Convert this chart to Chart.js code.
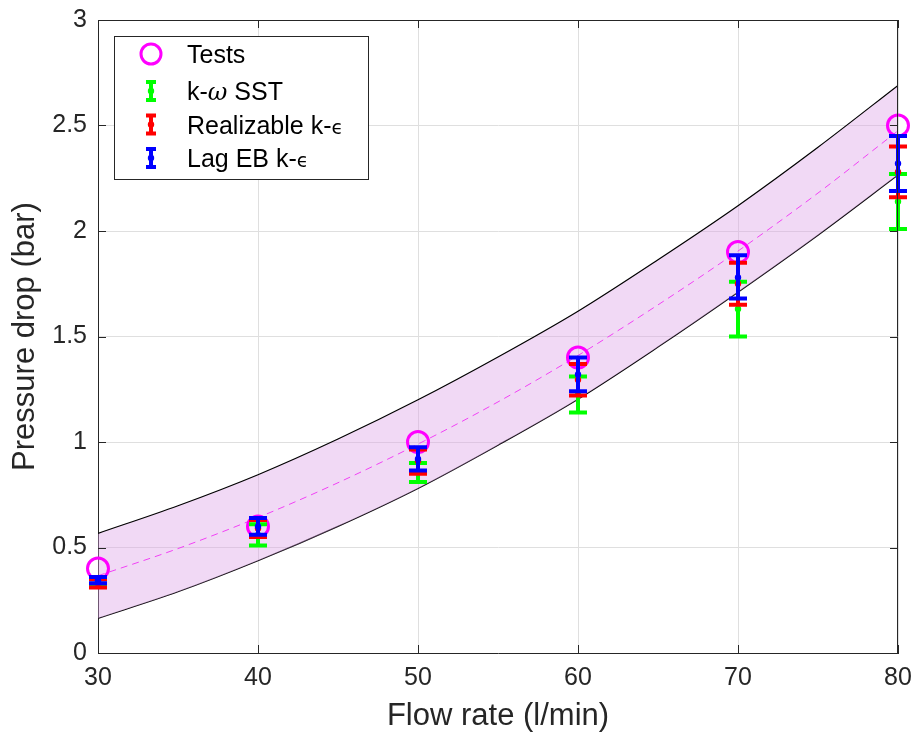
<!DOCTYPE html>
<html>
<head>
<meta charset="utf-8">
<script src="https://cdn.jsdelivr.net/npm/chart.js@4.4.1/dist/chart.umd.min.js"></script>
<style>
  body { margin: 0; background: #fff; }
  canvas { display: block; }
</style>
</head>
<body>
<canvas id="Chart" width="915" height="735"></canvas>
<script>
//measured points
var flow = [30, 40, 50, 60, 70, 80];
var tests = [0.4, 0.6, 1.0, 1.4, 1.9, 2.5];

//k-omega SST range
var sstLow = [0.32, 0.51, 0.81, 1.14, 1.50, 2.01];
var sstMid = [0.335, 0.56, 0.855, 1.225, 1.63, 2.14];
var sstHigh = [0.35, 0.61, 0.90, 1.31, 1.76, 2.27];

//realizable k-epsilon range
var rkeLow = [0.31, 0.55, 0.85, 1.22, 1.65, 2.16];
var rkeMid = [0.33, 0.59, 0.91, 1.295, 1.75, 2.28];
var rkeHigh = [0.35, 0.63, 0.965, 1.37, 1.85, 2.40];

//lag EB k-epsilon range
var lagLow = [0.33, 0.56, 0.865, 1.24, 1.68, 2.19];
var lagMid = [0.345, 0.60, 0.92, 1.32, 1.78, 2.32];
var lagHigh = [0.36, 0.64, 0.975, 1.40, 1.885, 2.45];

//fitted curve and its band
var curveX = [30, 35, 40, 45, 50, 55, 60, 65, 70, 75, 80];
var curveFit = [0.366, 0.495, 0.642, 0.807, 0.99, 1.19, 1.41, 1.65, 1.905, 2.18, 2.475];
var curveUpper = [0.567, 0.698, 0.845, 1.014, 1.20, 1.403, 1.62, 1.864, 2.12, 2.397, 2.69];
var curveLower = [0.164, 0.29, 0.437, 0.60, 0.78, 0.985, 1.203, 1.45, 1.71, 1.98, 2.265];

//axis ticks
var xTicks = [30, 40, 50, 60, 70, 80];
var xTickLabels = ["30", "40", "50", "60", "70", "80"];
var yTicks = [0, 0.5, 1, 1.5, 2, 2.5, 3];
var yTickLabels = ["0", "0.5", "1", "1.5", "2", "2.5", "3"];

var tickFont = { family: "Liberation Sans", size: 25, lineHeight: 1 };
var titleFont = { family: "Liberation Sans", size: 31, lineHeight: 1 };
var textColor = "#262626";

//error bar series, drawn in this order (blue ends up on top)
var models = [
  { name: [["k-", "n"], ["\u03c9", "i"], [" SST", "n"]], color: "#00ff00", low: sstLow, mid: sstMid, high: sstHigh },
  { name: [["Realizable k-", "n"], ["\u03f5", "s"]], color: "#ff0000", low: rkeLow, mid: rkeMid, high: rkeHigh },
  { name: [["Lag EB k-", "n"], ["\u03f5", "s"]], color: "#0000ff", low: lagLow, mid: lagMid, high: lagHigh },
];

function pts(xs, ys) {
  return xs.map(function (x, i) {
    return { x: x, y: ys[i] };
  });
}

//vertical bar with caps and a dot in the middle
function errorBar(ctx, x, yLo, yHi, yMid, half, color) {
  ctx.strokeStyle = color;
  ctx.fillStyle = color;
  ctx.lineWidth = 4;
  ctx.lineCap = "butt";
  ctx.beginPath();
  ctx.moveTo(x, yLo);
  ctx.lineTo(x, yHi);
  ctx.moveTo(x - half, yLo);
  ctx.lineTo(x + half, yLo);
  ctx.moveTo(x - half, yHi);
  ctx.lineTo(x + half, yHi);
  ctx.stroke();
  ctx.beginPath();
  ctx.arc(x, yMid, 3.2, 0, 2 * Math.PI);
  ctx.fill();
}

var errorBarsPlugin = {
  id: "errorBars",
  afterDatasetsDraw: function (chart) {
    var ctx = chart.ctx;
    var xs = chart.scales.x;
    var ys = chart.scales.y;
    ctx.save();
    models.forEach(function (m) {
      for (var i = 0; i < flow.length; i++) {
        errorBar(
          ctx,
          xs.getPixelForValue(flow[i]),
          ys.getPixelForValue(m.low[i]),
          ys.getPixelForValue(m.high[i]),
          ys.getPixelForValue(m.mid[i]),
          9,
          m.color
        );
      }
    });
    ctx.restore();
  },
};

//box on all four sides plus inward tick marks
var framePlugin = {
  id: "frame",
  afterDraw: function (chart) {
    var ctx = chart.ctx;
    var a = chart.chartArea;
    var xs = chart.scales.x;
    var ys = chart.scales.y;
    var len = 8;
    ctx.save();
    ctx.strokeStyle = textColor;
    ctx.lineWidth = 1;
    ctx.beginPath();
    ctx.moveTo(a.left, a.top + 0.5);
    ctx.lineTo(a.right, a.top + 0.5);
    ctx.moveTo(a.right - 0.5, a.top);
    ctx.lineTo(a.right - 0.5, a.bottom);
    xTicks.forEach(function (v) {
      var px = Math.round(xs.getPixelForValue(v)) + 0.5;
      ctx.moveTo(px, a.bottom);
      ctx.lineTo(px, a.bottom - len);
      ctx.moveTo(px, a.top);
      ctx.lineTo(px, a.top + len);
    });
    yTicks.forEach(function (v) {
      var py = Math.round(ys.getPixelForValue(v)) + 0.5;
      ctx.moveTo(a.left, py);
      ctx.lineTo(a.left + len, py);
      ctx.moveTo(a.right, py);
      ctx.lineTo(a.right - len, py);
    });
    ctx.stroke();
    ctx.restore();
    drawLegend(ctx);
  },
};

function runFont(kind) {
  if (kind == "i") return "italic 24px 'DejaVu Serif'";
  if (kind == "s") return "19px 'DejaVu Sans'";
  return "25px 'Liberation Sans'";
}

function drawLegend(ctx) {
  var bx = 114, by = 36, bw = 254, bh = 143;
  var iconX = 151, textX = 187;
  var rows = [54, 91, 124.5, 158];
  ctx.save();
  ctx.fillStyle = "#fff";
  ctx.fillRect(bx, by, bw, bh);
  ctx.strokeStyle = textColor;
  ctx.lineWidth = 1;
  ctx.strokeRect(bx + 0.5, by + 0.5, bw, bh);

  //tests marker
  ctx.strokeStyle = "#ff00ff";
  ctx.lineWidth = 3;
  ctx.beginPath();
  ctx.arc(iconX, rows[0], 10, 0, 2 * Math.PI);
  ctx.stroke();
  drawRuns(ctx, [["Tests", "n"]], textX, rows[0] + 9);

  models.forEach(function (m, k) {
    var y = rows[k + 1];
    errorBar(ctx, iconX, y + 9, y - 9, y, 5, m.color);
    drawRuns(ctx, m.name, textX, y + 9);
  });
  ctx.restore();
}

function drawRuns(ctx, runs, x, baseline) {
  ctx.fillStyle = "#000";
  ctx.textBaseline = "alphabetic";
  ctx.textAlign = "left";
  runs.forEach(function (r) {
    ctx.font = runFont(r[1]);
    ctx.fillText(r[0], x, baseline);
    x += ctx.measureText(r[0]).width;
  });
}

var ctx = document.getElementById("Chart").getContext("2d");

var myChart = new Chart(ctx, {
  type: "line",
  data: {
    datasets: [
      {
        label: "Tests",
        data: pts(flow, tests),
        showLine: false,
        pointRadius: 10.5,
        pointBorderWidth: 3,
        pointBorderColor: "#ff00ff",
        pointBackgroundColor: "rgba(0,0,0,0)",
        clip: false,
      },
      {
        label: "upper",
        data: pts(curveX, curveUpper),
        borderColor: "#000",
        borderWidth: 1.2,
        pointRadius: 0,
        cubicInterpolationMode: "monotone",
        fill: "+1",
        backgroundColor: "rgba(220,160,230,0.4)",
      },
      {
        label: "lower",
        data: pts(curveX, curveLower),
        borderColor: "#000",
        borderWidth: 1.2,
        pointRadius: 0,
        cubicInterpolationMode: "monotone",
        fill: false,
      },
      {
        label: "fit",
        data: pts(curveX, curveFit),
        borderColor: "#ff00ff",
        borderWidth: 1,
        borderDash: [7, 5],
        pointRadius: 0,
        cubicInterpolationMode: "monotone",
        fill: false,
      },
    ],
  },
  options: {
    responsive: false,
    animation: false,
    layout: { padding: { top: 20, right: 17, left: 0, bottom: 0 } },
    plugins: {
      legend: { display: false },
      tooltip: { enabled: false },
    },
    scales: {
      x: {
        type: "linear",
        min: 30,
        max: 80,
        afterBuildTicks: function (s) {
          s.ticks = xTicks.map(function (v) {
            return { value: v };
          });
        },
        afterFit: function (s) {
          s.height = 82;
          s.paddingLeft = 0;
          s.paddingRight = 0;
        },
        grid: { color: "#dfdfdf", drawTicks: false },
        border: { color: textColor },
        ticks: {
          padding: 13,
          font: tickFont,
          color: textColor,
          maxRotation: 0,
          callback: function (v, i) {
            return xTickLabels[i];
          },
        },
        title: {
          display: true,
          text: "Flow rate (l/min)",
          font: titleFont,
          color: textColor,
          padding: { top: 0, bottom: 3 },
        },
      },
      y: {
        type: "linear",
        min: 0,
        max: 3,
        afterBuildTicks: function (s) {
          s.ticks = yTicks.map(function (v) {
            return { value: v };
          });
        },
        afterFit: function (s) {
          s.width = 98;
          s.paddingTop = 0;
          s.paddingBottom = 0;
        },
        grid: { color: "#dfdfdf", drawTicks: false },
        border: { color: textColor },
        ticks: {
          padding: 11,
          font: tickFont,
          color: textColor,
          callback: function (v, i) {
            return yTickLabels[i];
          },
        },
        title: {
          display: true,
          text: "Pressure drop (bar)",
          font: titleFont,
          color: textColor,
          padding: { top: 10, bottom: 0 },
        },
      },
    },
  },
  plugins: [errorBarsPlugin, framePlugin],
});
</script>
</body>
</html>
